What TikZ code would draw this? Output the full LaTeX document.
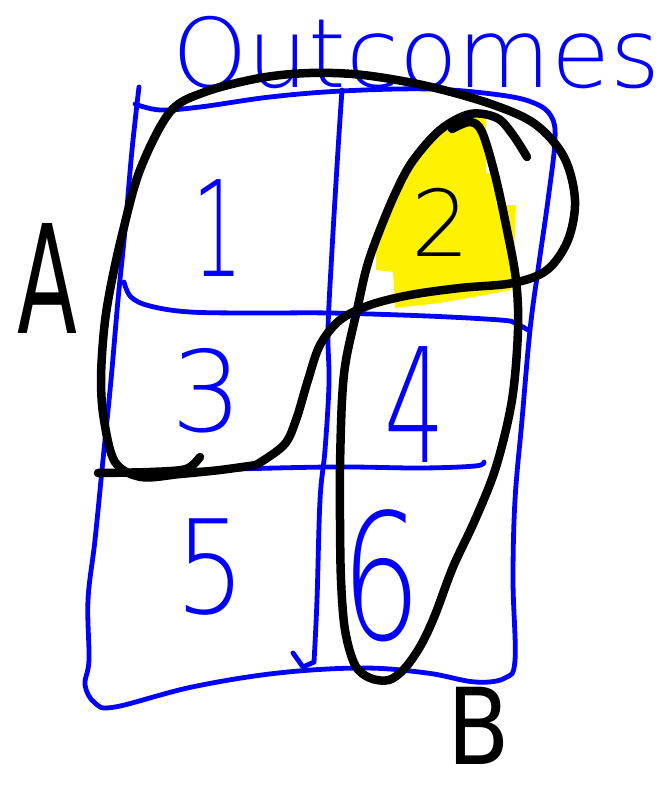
\documentclass[tikz,border=0pt]{standalone}
\usepackage{fontspec}
\IfFontExistsTF{DejaVu Sans ExtraLight}{\newfontfamily\thinfont{DejaVu Sans ExtraLight}}{\newfontfamily\thinfont{DejaVu Sans}}
\newfontfamily\handfont{DejaVu Sans}
\begin{document}
\begin{tikzpicture}[x=1pt,y=-1pt,
  blueline/.style={draw=blue, line width=4.8pt, line cap=round, line join=round},
  blackline/.style={draw=black, line width=8.5pt, line cap=round, line join=round},
  digitnode/.style={text=blue, inner sep=0pt},
  labelnode/.style={text=black, inner sep=0pt}]
\useasboundingbox (0,0) rectangle (669,789);

% yellow highlight of cell 2
\fill[yellow] (470,118) -- (486,118) -- (486,173) -- (496,173) -- (496,205) -- (516,205)
  -- (514,260) -- (511,290) -- (480,296) -- (440,303) -- (395,308) -- (393,272)
  -- (376,270) -- (376,228) -- (386,205) -- (400,178) -- (420,150) -- (445,128) -- cycle;

% title
\node[text=blue, inner sep=0pt, anchor=base west] (title) at (172,88)
  {\thinfont\fontsize{96}{96}\selectfont Outcomes};

% blue grid
\draw[blueline] plot[smooth, tension=0.6] coordinates {
  (139,87) (132,150) (125,230) (118,300) (111,380) (103,460) (95,540) (88,600)
  (89,660) (85,685) (95,703) (115,707) (192,687) (278,673) (363,668) (427,673)
  (475,682) (505,678) (515,660) (513,580) (515,500) (522,420) (530,330) (538,270)
  (548,200) (555,140) (551,116) (534,103) (500,95) (430,89) (342,91) (270,97)
  (200,107) (160,110) (135,104)};
\draw[blueline] plot[smooth, tension=0.6] coordinates {
  (124,282) (131,297) (150,306) (190,312) (260,313) (330,313) (427,316) (500,320) (515,323) (528,330)};
\draw[blueline] plot[smooth, tension=0.6] coordinates {
  (103,473) (200,470) (330,467) (420,468) (475,466) (484,462)};
\draw[blueline] plot[smooth, tension=0.6] coordinates {
  (342,90) (338,150) (332,250) (328,330) (329,383) (325,450) (320,500) (317,600) (314,662)};
\draw[blueline] (293,653) -- (303,667) -- (314,662);

% digits
\node[digitnode] (n1) at (218,228) {\thinfont\fontsize{133}{133}\selectfont\scalebox{0.6}[1]{1}};
\node[labelnode] (n2) at (441,222) {\thinfont\fontsize{92}{92}\selectfont 2};
\node[digitnode] (n3) at (207,391) {\thinfont\fontsize{112}{112}\selectfont 3};
\node[digitnode] (n4) at (415,405) {\thinfont\fontsize{159}{159}\selectfont\scalebox{0.6}[1]{4}};
\node[digitnode] (n5) at (211,567) {\thinfont\fontsize{130}{130}\selectfont\scalebox{0.85}[1]{5}};
\node[digitnode] (n6) at (382,576) {\thinfont\fontsize{175}{175}\selectfont\scalebox{0.72}[1]{6}};

% event A
\draw[blackline] plot[smooth, tension=0.55] coordinates {
  (256,465) (220,470) (180,474) (141,477) (115,462) (104,420) (101,380) (104,330)
  (110,290) (122,235) (140,170) (170,112) (205,92) (260,78) (310,73) (363,75)
  (427,86) (491,104) (535,124) (564,157) (575,200) (568,240) (547,270) (513,283)
  (460,288) (410,295) (370,305) (340,320) (320,345) (308,380) (296,420) (284,445) (256,465)};
\draw[blackline] plot[smooth, tension=0.5] coordinates {(98,473) (150,472) (186,469) (200,457)};

% event B
\draw[blackline] plot[smooth, tension=0.55] coordinates {
  (452,129) (470,122) (482,132) (495,175) (507,230) (516,280) (518,330) (512,400)
  (496,467) (475,520) (453,567) (435,615) (421,645) (405,668) (389,680) (370,678)
  (355,665) (345,630) (341,580) (340,520) (340,467) (342,400) (346,360) (357,310)
  (366,270) (376,240) (394,196) (412,162) (440,130) (470,114) (497,118) (513,135) (527,157)};

% labels
\node[labelnode] (A) at (47,278) {\handfont\fontsize{151}{151}\selectfont\scalebox{0.58}[1]{A}};
\node[labelnode] (B) at (479,726) {\handfont\fontsize{106}{106}\selectfont\scalebox{0.86}[1]{B}};
\end{tikzpicture}
\end{document}
